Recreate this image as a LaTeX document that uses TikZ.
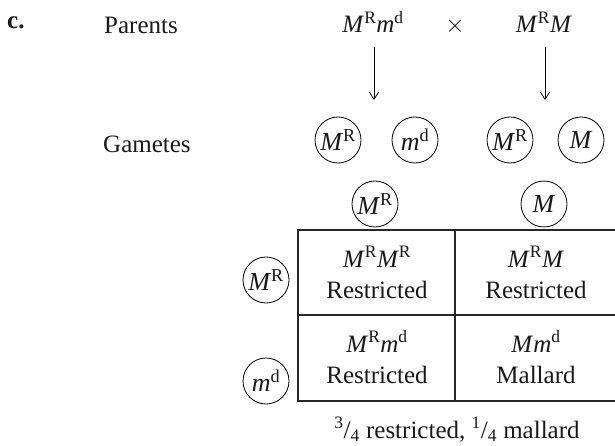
\documentclass[tikz,border=0pt]{standalone}
\usepackage{fontspec}
\setmainfont{Liberation Serif}
\usetikzlibrary{arrows.meta}
\newcommand{\al}[2]{\textit{#1}\textsuperscript{#2}}
\newcommand{\frc}[2]{\textsuperscript{#1}/\textsubscript{#2}}

\begin{document}
\begin{tikzpicture}[
  x=1pt,y=-1pt,
  >={Straight Barb[length=7pt,width=9pt]},
  font=\fontsize{25}{31}\selectfont,
  every node/.style={text=black!90},
  label/.style={anchor=base west,inner sep=0},
  geno/.style={anchor=base,inner sep=0},
  gam/.style={draw,circle,minimum size=46pt,inner sep=0,line width=.8pt,
    font=\fontsize{26}{31}\selectfont},
  grid/.style={line width=1.1pt,black!85}
]
  \useasboundingbox (0,0) rectangle (615,446);

  % Parents.
  \node[label,font=\fontsize{25}{30}\selectfont\bfseries] (lc) at (7,29) {c.};
  \node[label] (lpar) at (104,34) {Parents};
  \node[geno] (p1) at (373,33) {\al{M}{R}\al{m}{d}};
  \node[geno] (x) at (455,33) {$\times$};
  \node[geno] (p2) at (544,33) {\al{M}{R}\textit{M}};
  \coordinate (a1) at (374,100);
  \coordinate (a2) at (545,100);
  \draw[->,line width=.8pt,shorten <=14pt] (p1.south -| a1) -- (a1);
  \draw[->,line width=.8pt,shorten <=14pt] (p2.south -| a2) -- (a2);

  % Gametes.
  \node[label] (lgam) at (103,153) {Gametes};
  \node[gam] (g1) at (338,140) {\al{M}{R}};
  \node[gam] (g2) at (415,140) {\al{m}{d}};
  \node[gam] (g3) at (510,140) {\al{M}{R}};
  \node[gam] (g4) at (581,140) {\textit{M}};

  % Punnett square.
  \node[gam] (c1) at (375,204) {\al{M}{R}};
  \node[gam] (c2) at (544,204) {\textit{M}};
  \node[gam] (r1) at (266,280) {\al{M}{R}};
  \node[gam] (r2) at (266,381) {\al{m}{d}};
  \draw[grid] (615,230) -- (298,230) -- (298,401) -- (615,401);
  \draw[grid] (298,315) -- (615,315) (455,230) -- (455,401);
  \node[geno] (s11) at (377,267) {\al{M}{R}\al{M}{R}};
  \node[geno] (t11) at (377,298) {Restricted};
  \node[geno] (s12) at (536,267) {\al{M}{R}\textit{M}};
  \node[geno] (t12) at (536,298) {Restricted};
  \node[geno] (s21) at (377,352) {\al{M}{R}\al{m}{d}};
  \node[geno] (t21) at (377,383) {Restricted};
  \node[geno] (s22) at (536,352) {\textit{M}\al{m}{d}};
  \node[geno] (t22) at (536,383) {Mallard};
  \node[geno] (res) at (457,438) {\frc{3}{4} restricted, \frc{1}{4} mallard};
\end{tikzpicture}
\end{document}
